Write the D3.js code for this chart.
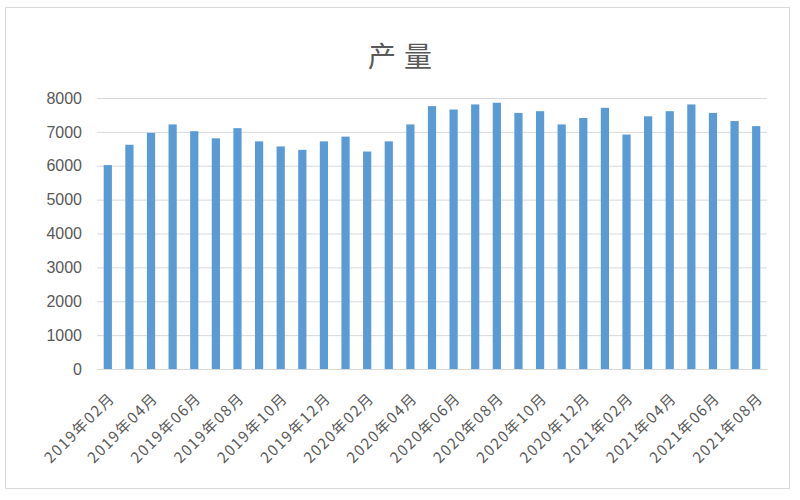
<!DOCTYPE html>
<html><head><meta charset="utf-8">
<script src="https://cdn.jsdelivr.net/npm/d3@7"></script>
<style>body{margin:0;background:#fff}</style>
</head><body>
<svg id="c" width="800" height="500"></svg>
<script>
const categories = ["2019年02月","2019年03月","2019年04月","2019年05月","2019年06月","2019年07月","2019年08月","2019年09月","2019年10月","2019年11月","2019年12月",
"2020年01月","2020年02月","2020年03月","2020年04月","2020年05月","2020年06月","2020年07月","2020年08月","2020年09月","2020年10月","2020年11月","2020年12月",
"2021年01月","2021年02月","2021年03月","2021年04月","2021年05月","2021年06月","2021年07月","2021年08月"];
const values = [6020,6620,6970,7220,7020,6810,7110,6720,6570,6470,6720,6860,6420,6720,7220,7760,7660,7810,7860,7560,7610,7220,7410,7710,6920,7460,7610,7810,7560,7320,7170];
const yTicks = [0,1000,2000,3000,4000,5000,6000,7000,8000];
const title = "产量";

const svg = d3.select("#c");
const m = {left:97, right:767, top:98, bottom:369};

svg.append("rect").attr("x",5.5).attr("y",7.5).attr("width",784).attr("height",481)
  .attr("fill","#fff").attr("stroke","#d9d9d9");

svg.append("text").attr("x",404).attr("y",67).attr("text-anchor","middle")
  .attr("font-family","Noto Sans CJK SC").attr("font-size",28).attr("letter-spacing",8)
  .attr("fill","#595959").text(title);

const x = d3.scaleBand().domain(categories).range([m.left,m.right]).paddingInner(0.62).paddingOuter(0.31);
const y = d3.scaleLinear().domain([0,8000]).range([m.bottom,m.top]);

const yAxis = d3.axisLeft(y).tickValues(yTicks).tickFormat(d3.format("d")).tickSize(-(m.right-m.left)).tickPadding(15);
const gy = svg.append("g").attr("transform",`translate(${m.left},0)`).call(yAxis);
gy.select(".domain").remove();
gy.selectAll(".tick line").attr("stroke","#d9d9d9").attr("stroke-width",1);
gy.selectAll(".tick text").attr("fill","#595959").attr("font-family","Liberation Sans, Arial").attr("font-size",16);

svg.append("g").selectAll("rect").data(values).join("rect")
  .attr("x",(d,i)=>x(categories[i])).attr("width",x.bandwidth())
  .attr("y",d=>y(d)).attr("height",d=>y(0)-y(d))
  .attr("fill","#5b9bd5");

const xAxis = d3.axisBottom(x).tickValues(categories.filter((c,i)=>i%2===0)).tickSize(0).tickPadding(0);
const gx = svg.append("g").attr("transform",`translate(0,${m.bottom})`).call(xAxis);
gx.select(".domain").attr("stroke","#d9d9d9");
gx.selectAll(".tick text")
  .attr("fill","#595959").attr("font-family","Noto Sans CJK SC").attr("font-size",15).attr("letter-spacing",1.5)
  .attr("text-anchor","end").attr("dy",0)
  .attr("transform","translate(8,30) rotate(-45)");
</script>
</body></html>
